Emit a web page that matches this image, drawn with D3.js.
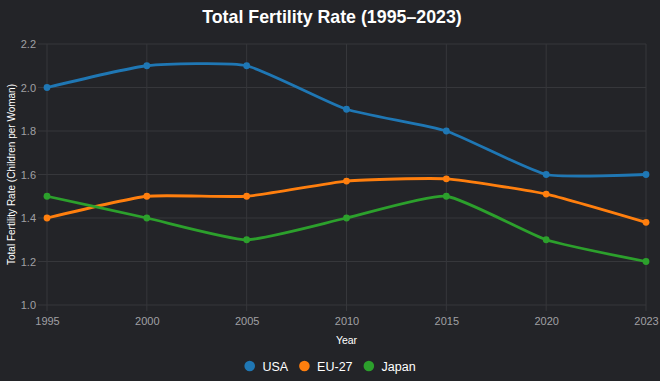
<!DOCTYPE html>
<html><head><meta charset="utf-8">
<script src="https://cdn.jsdelivr.net/npm/d3@7"></script>
<style>
html,body{margin:0;padding:0;background:#232428;}
svg{display:block;font-family:"Liberation Sans",Arial,Helvetica,sans-serif;}
</style></head>
<body><svg id="c" width="660" height="381"></svg>
<script>
const years = ["1995","2000","2005","2010","2015","2020","2023"];
const usa   = [2.0, 2.1, 2.1, 1.9, 1.8, 1.6, 1.6];
const eu27  = [1.4, 1.5, 1.5, 1.57, 1.58, 1.51, 1.38];
const japan = [1.5, 1.4, 1.3, 1.4, 1.5, 1.3, 1.2];
const yTicks = [1.0, 1.2, 1.4, 1.6, 1.8, 2.0, 2.2];
const seriesNames = ["USA", "EU-27", "Japan"];
const colors = ["#1f77b4", "#ff7f0e", "#2ca02c"];
const seriesData = [usa, eu27, japan];

const W = 660, H = 381;
const m = {l:47, r:14, t:44, b:76};
const svg = d3.select("#c");
svg.append("rect").attr("width",W).attr("height",H).attr("fill","#232428");

const x = d3.scalePoint().domain(years).range([m.l, W - m.r]);
const y = d3.scaleLinear().domain([1.0, 2.2]).range([H - m.b, m.t]);

// grid
const g = svg.append("g");
g.selectAll(".hg").data(yTicks).join("line")
  .attr("x1", m.l - 9).attr("x2", W - m.r)
  .attr("y1", d => y(d)).attr("y2", d => y(d))
  .attr("stroke", "#36373b").attr("stroke-width", 1);
g.selectAll(".vg").data(years).join("line")
  .attr("x1", d => x(d)).attr("x2", d => x(d))
  .attr("y1", m.t).attr("y2", H - m.b + 6)
  .attr("stroke", "#36373b").attr("stroke-width", 1);

// axes via d3
const yAxis = svg.append("g").attr("transform", `translate(${m.l - 9},0)`)
  .call(d3.axisLeft(y).tickValues(yTicks).tickFormat(d3.format(".1f")).tickSize(0).tickPadding(2));
yAxis.select(".domain").remove();
yAxis.selectAll("text").attr("fill", "#a0a0a4").style("font-size", "11px");

const xAxis = svg.append("g").attr("transform", `translate(0,${H - m.b + 6})`)
  .call(d3.axisBottom(x).tickSize(0).tickPadding(6));
xAxis.select(".domain").remove();
xAxis.selectAll("text").attr("fill", "#a0a0a4").style("font-size", "11px");

// lines
const line = d3.line().x((d,i) => x(years[i])).y(d => y(d)).curve(d3.curveCardinal.tension(0.5));
seriesData.forEach((s, k) => {
  svg.append("path").datum(s).attr("d", line)
    .attr("fill", "none").attr("stroke", colors[k]).attr("stroke-width", 2.8);
  svg.append("g").selectAll("circle").data(s).join("circle")
    .attr("cx", (d,i) => x(years[i])).attr("cy", d => y(d)).attr("r", 3.4)
    .attr("fill", colors[k]);
});

// title
svg.append("text").attr("x", W/2 + 2).attr("y", 23).attr("text-anchor", "middle")
  .attr("fill", "#ffffff").style("font-size", "17.8px").style("font-weight", "bold")
  .text("Total Fertility Rate (1995–2023)");

// axis titles
svg.append("text").attr("x", (m.l + W - m.r)/2).attr("y", 344).attr("text-anchor", "middle")
  .attr("fill", "#ffffff").style("font-size", "10.5px").text("Year");
svg.append("text").attr("transform", `translate(15,${(m.t + H - m.b)/2}) rotate(-90)`)
  .attr("text-anchor", "middle").attr("fill", "#ffffff").style("font-size", "10px")
  .text("Total Fertility Rate (Children per Woman)");

// legend (centered, measured)
const legend = svg.append("g");
let cur = 0;
seriesNames.forEach((n, k) => {
  legend.append("circle").attr("cx", cur + 5.3).attr("cy", 366).attr("r", 5.3).attr("fill", colors[k]);
  const t = legend.append("text").attr("x", cur + 18).attr("y", 370.5).attr("fill", "#ffffff")
    .style("font-size", "12.5px").text(n);
  const w = t.node().getComputedTextLength();
  cur = cur + 18 + w + 11;
});
const total = cur - 11;
legend.attr("transform", `translate(${W/2 - total/2},0)`);
</script></body></html>
